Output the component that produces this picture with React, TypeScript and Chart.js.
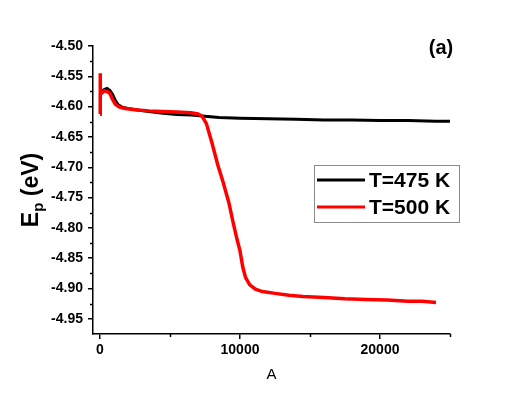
import React, { useEffect, useRef } from 'react';
import { Chart, registerables } from 'chart.js';

Chart.register(...registerables);

const FONT = '"Liberation Sans", Arial, Helvetica, sans-serif';

const seriesLabels = ['T=475 K', 'T=500 K'];
const seriesColors = ['#000000', '#ff0000'];

// T=475 K
const x475 = [
  0, 30, 100, 300, 500, 700, 900, 1100, 1300, 1600, 2000, 2800, 3500, 4500,
  5500, 6500, 7500, 8500, 10000, 12000, 14000, 16000, 18000, 20000, 22000,
  24000, 25000,
];
const y475 = [
  -4.612, -4.58, -4.575, -4.572, -4.57, -4.573, -4.58, -4.59, -4.597, -4.601,
  -4.603, -4.606, -4.608, -4.611, -4.613, -4.614, -4.616, -4.618, -4.619,
  -4.62, -4.621, -4.622, -4.622, -4.623, -4.623, -4.624, -4.624,
];

// T=500 K
const x500 = [
  0, 10, 30, 100, 300, 500, 700, 900, 1100, 1400, 1800, 2500, 3500, 4500, 5500,
  6500, 7000, 7300, 7600, 8000, 8400, 8800, 9200, 9500, 9800, 10000, 10200,
  10400, 10700, 11100, 11600, 12500, 13500, 14500, 16000, 17500, 19000, 20500,
  22000, 23000, 24000,
];
const y500 = [
  -4.612, -4.545, -4.575, -4.578, -4.574, -4.575, -4.578, -4.588, -4.596,
  -4.601, -4.603, -4.605, -4.607, -4.608, -4.609, -4.61, -4.612, -4.616,
  -4.628, -4.66, -4.695, -4.725, -4.758, -4.79, -4.82, -4.838, -4.865, -4.882,
  -4.894, -4.901, -4.905, -4.908, -4.911, -4.913, -4.915, -4.917, -4.918,
  -4.919, -4.921, -4.921, -4.923,
];

const xTicks = [0, 10000, 20000];
const xMinorTicks = [5000, 15000, 25000];
const yTicks = [-4.5, -4.55, -4.6, -4.65, -4.7, -4.75, -4.8, -4.85, -4.9, -4.95];
const yMinorTicks = [-4.525, -4.575, -4.625, -4.675, -4.725, -4.775, -4.825, -4.875, -4.925];

const toPoints = (xs: number[], ys: number[]) => xs.map((x, i) => ({ x, y: ys[i] }));

const extrasPlugin = {
  id: 'extras',
  afterDraw(chart: any) {
    const { ctx, chartArea, scales } = chart;
    const { left, bottom, top } = chartArea;
    ctx.save();

    // minor ticks
    ctx.strokeStyle = '#000';
    ctx.lineWidth = 1.5;
    ctx.beginPath();
    yMinorTicks.forEach((v) => {
      const py = Math.round(scales.y.getPixelForValue(v)) + 0.5;
      ctx.moveTo(left - 3, py);
      ctx.lineTo(left, py);
    });
    xMinorTicks.forEach((v) => {
      const px = Math.round(scales.x.getPixelForValue(v)) + 0.5;
      ctx.moveTo(px, bottom);
      ctx.lineTo(px, bottom + 3);
    });
    ctx.stroke();

    // y axis title: E_p (eV)
    ctx.save();
    ctx.translate(38, (top + bottom) / 2);
    ctx.rotate(-Math.PI / 2);
    ctx.fillStyle = '#000';
    ctx.textBaseline = 'alphabetic';
    ctx.textAlign = 'left';
    const big = `bold 23px ${FONT}`;
    const small = `bold 15px ${FONT}`;
    ctx.font = big;
    const wE = ctx.measureText('E').width;
    const wRest = ctx.measureText(' (eV)').width;
    ctx.font = small;
    const wP = ctx.measureText('p').width;
    let cx = -(wE + wP + wRest) / 2;
    ctx.font = big;
    ctx.fillText('E', cx, 0);
    cx += wE;
    ctx.font = small;
    ctx.fillText('p', cx, 5);
    cx += wP;
    ctx.font = big;
    ctx.fillText(' (eV)', cx, 0);
    ctx.restore();

    // panel label
    ctx.fillStyle = '#000';
    ctx.font = `bold 20px ${FONT}`;
    ctx.textAlign = 'center';
    ctx.textBaseline = 'middle';
    ctx.fillText('(a)', 441, 48);

    // legend box
    ctx.strokeStyle = '#8a8a8a';
    ctx.lineWidth = 1;
    ctx.strokeRect(314.5, 165.5, 145, 57);
    ctx.font = `bold 21px ${FONT}`;
    ctx.textAlign = 'left';
    ctx.textBaseline = 'middle';
    seriesLabels.forEach((label, i) => {
      const ly = 180 + i * 27;
      ctx.strokeStyle = seriesColors[i];
      ctx.lineWidth = 3;
      ctx.beginPath();
      ctx.moveTo(317, ly);
      ctx.lineTo(365, ly);
      ctx.stroke();
      ctx.fillStyle = '#000';
      ctx.fillText(label, 369, ly + 1);
    });

    ctx.restore();
  },
};

const App: React.FC = () => {
  const chartRef = useRef<HTMLCanvasElement>(null);

  useEffect(() => {
    if (!chartRef.current) return;
    const context = chartRef.current.getContext('2d');
    if (!context) return;

    const chart = new Chart(context, {
      type: 'line',
      data: {
        datasets: [
          {
            label: seriesLabels[0],
            data: toPoints(x475, y475),
            borderColor: seriesColors[0],
            borderWidth: 3,
            pointRadius: 0,
            order: 1,
          },
          {
            label: seriesLabels[1],
            data: toPoints(x500, y500),
            borderColor: seriesColors[1],
            borderWidth: 3.5,
            pointRadius: 0,
            order: 0,
          },
        ],
      },
      options: {
        animation: false,
        responsive: true,
        maintainAspectRatio: false,
        layout: { padding: { top: 46, right: 73, left: 0, bottom: 0 } },
        plugins: {
          legend: { display: false },
          tooltip: { enabled: false },
        },
        scales: {
          x: {
            type: 'linear',
            min: -500,
            max: 25000,
            afterBuildTicks: (scale: any) => {
              scale.ticks = xTicks.map((value) => ({ value }));
            },
            afterFit: (scale: any) => {
              scale.height = 67;
            },
            grid: {
              drawOnChartArea: false,
              tickLength: 5,
              color: '#000',
              lineWidth: 1.5,
            },
            border: { display: true, color: '#000', width: 1.5 },
            ticks: {
              color: '#000',
              padding: 3,
              maxRotation: 0,
              font: { family: FONT, size: 14, weight: 'bold' },
              callback: (v: any) => String(v),
            },
            title: {
              display: true,
              text: 'A',
              color: '#000',
              font: { family: FONT, size: 15 },
              padding: { top: 0, bottom: 17 },
            },
          },
          y: {
            type: 'linear',
            min: -4.975,
            max: -4.5,
            afterBuildTicks: (scale: any) => {
              scale.ticks = yTicks.map((value) => ({ value }));
            },
            afterFit: (scale: any) => {
              scale.width = 93;
            },
            grid: {
              drawOnChartArea: false,
              tickLength: 5,
              color: '#000',
              lineWidth: 1.5,
            },
            border: { display: true, color: '#000', width: 1.5 },
            ticks: {
              color: '#000',
              padding: 5,
              font: { family: FONT, size: 14, weight: 'bold' },
              callback: (v: any) => Number(v).toFixed(2),
            },
          },
        },
      },
      plugins: [extrasPlugin],
    });

    return () => {
      chart.destroy();
    };
  }, []);

  return (
    <div style={{ position: 'absolute', left: 0, top: 0, width: 523, height: 401, background: '#fff' }}>
      <canvas ref={chartRef} />
    </div>
  );
};

export default App;
